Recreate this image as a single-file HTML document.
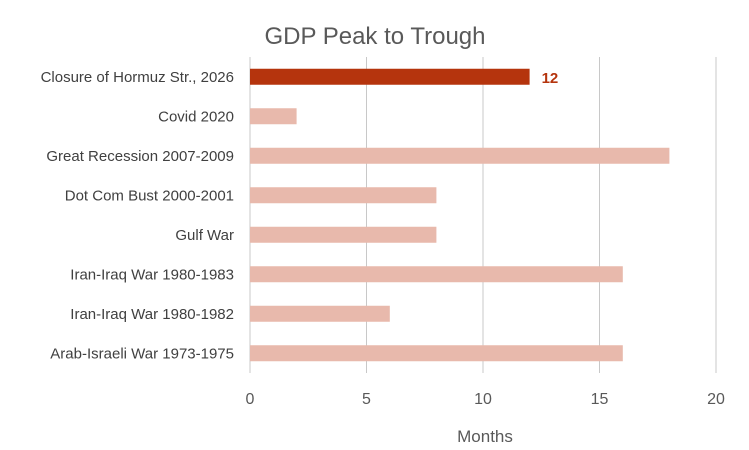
<!DOCTYPE html>
<html><head><meta charset="utf-8"><style>
body{margin:0;background:#fff;}
svg{display:block;font-family:"Liberation Sans",Calibri,sans-serif;}
</style></head><body>
<svg width="749" height="450">
<text x="375" y="44" text-anchor="middle" font-size="24" fill="#595959">GDP Peak to Trough</text>
<g id="grid"></g><g id="bars"></g><g id="labels"></g>
<text x="485" y="442" text-anchor="middle" font-size="17" fill="#595959">Months</text>
</svg>
<script>
const categories=["Closure of Hormuz Str., 2026","Covid 2020","Great Recession 2007-2009","Dot Com Bust 2000-2001","Gulf War","Iran-Iraq War 1980-1983","Iran-Iraq War 1980-1982","Arab-Israeli War 1973-1975"];
const values=[12,2,18,8,8,16,6,16];
const ticks=[0,5,10,15,20];
const NS="http://www.w3.org/2000/svg";
const x0=250,x1=716,xmax=20,plotTop=57,plotBottom=373;
const xs=v=>x0+(x1-x0)*v/xmax;
const band=(plotBottom-plotTop)/categories.length;
const ys=i=>plotTop+band*(i+0.5);
function mk(t,a,p){const e=document.createElementNS(NS,t);for(const k in a)e.setAttribute(k,a[k]);p.appendChild(e);return e;}
const g=document.getElementById('grid'),b=document.getElementById('bars'),l=document.getElementById('labels');
ticks.forEach(t=>{
 const ln=mk('line',{x1:xs(t),x2:xs(t),y1:plotTop,y2:plotBottom,stroke:'#c8c8c8','stroke-width':1},g);
 
 
 const tx=mk('text',{x:xs(t),y:404,'text-anchor':'middle','font-size':16,fill:'#595959'},g);
 tx.textContent=t;
 
 
});
categories.forEach((c,i)=>{
 const y=ys(i),h=16;
 const r=mk('rect',{x:x0,y:y-h/2,width:xs(values[i])-x0,height:h,fill:i===0?'#B5340D':'#E8B9AC'},b);
 
 
 const t=mk('text',{x:234,y:y+5,'text-anchor':'end','font-size':15,fill:'#404040'},l);
 t.textContent=c;
 
 
 if(i===0){
  const v=mk('text',{x:xs(values[i])+12,y:y+6,'font-size':15,'font-weight':'bold',fill:'#B5340D'},l);
  v.textContent=values[i];
  
  
 }
});
</script>
</body></html>
